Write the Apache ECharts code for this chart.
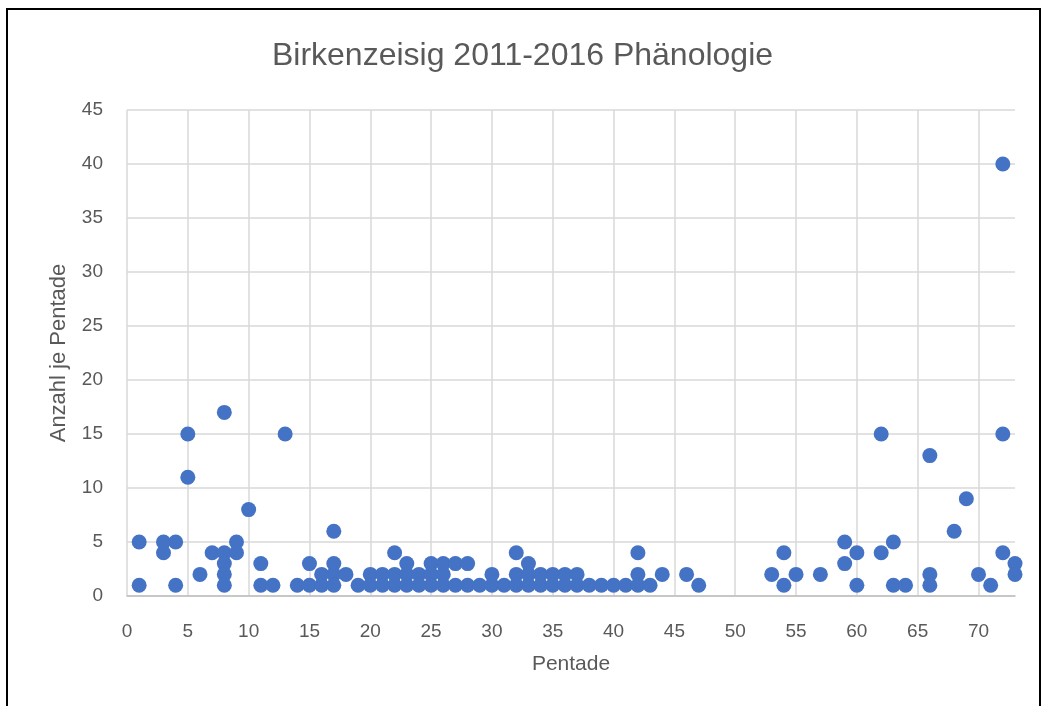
<!DOCTYPE html>
<html>
<head>
<meta charset="utf-8">
<script src="https://cdn.jsdelivr.net/npm/echarts@6/dist/echarts.min.js"></script>
<style>
  html, body { margin: 0; padding: 0; background: #fff; }
  #chart { width: 1045px; height: 706px; }
</style>
</head>
<body>
<div id="chart"></div>
<script>
// Pentade (x) und Anzahl (y), Punkt für Punkt
var pentade = [1, 1, 3, 3, 4, 4, 5, 5, 6, 7, 8, 8, 8, 8, 8, 9, 9, 10, 11, 11, 12, 13, 14, 15, 15, 16, 16,
  17, 17, 17, 17, 18, 19, 20, 20, 21, 21, 22, 22, 22, 23, 23, 23, 24, 24, 25, 25, 25, 26, 26, 26,
  27, 27, 28, 28, 29, 30, 30, 31, 32, 32, 32, 33, 33, 33, 34, 34, 35, 35, 36, 36, 37, 37, 38, 39,
  40, 41, 42, 42, 42, 43, 44, 46, 47, 53, 54, 54, 55, 57, 59, 59, 60, 60, 62, 62, 63, 63, 64,
  66, 66, 66, 68, 69, 70, 71, 72, 72, 72, 73, 73];
var anzahl = [5, 1, 5, 4, 5, 1, 15, 11, 2, 4, 17, 4, 3, 2, 1, 5, 4, 8, 3, 1, 1, 15, 1, 3, 1, 2, 1,
  6, 3, 2, 1, 2, 1, 2, 1, 2, 1, 4, 2, 1, 3, 2, 1, 2, 1, 3, 2, 1, 3, 2, 1,
  3, 1, 3, 1, 1, 2, 1, 1, 4, 2, 1, 3, 2, 1, 2, 1, 2, 1, 2, 1, 2, 1, 1, 1,
  1, 1, 4, 2, 1, 1, 2, 2, 1, 2, 4, 1, 2, 2, 5, 3, 4, 1, 15, 4, 5, 1, 1,
  13, 2, 1, 6, 9, 2, 1, 40, 15, 4, 3, 2];

var points = pentade.map(function (p, i) { return [p, anzahl[i]]; });

var font = "'Liberation Sans', 'DejaVu Sans', sans-serif";
var grey = '#595959';

var chart = echarts.init(document.getElementById('chart'));
chart.setOption({
  animation: false,
  backgroundColor: '#ffffff',
  title: {
    text: 'Birkenzeisig 2011-2016 Phänologie',
    left: 'center',
    top: 35,
    textStyle: { fontFamily: font, fontSize: 32, fontWeight: 'normal', color: grey }
  },
  graphic: [{
    type: 'rect',
    shape: { x: 7, y: 9, width: 1033, height: 760 },
    style: { fill: 'none', stroke: '#000', lineWidth: 2 },
    silent: true
  }],
  grid: { left: 127, right: 30, top: 110, bottom: 110 },
  xAxis: {
    type: 'value',
    min: 0,
    max: 73,
    interval: 5,
    name: 'Pentade',
    nameLocation: 'middle',
    nameGap: 58,
    nameTextStyle: { fontFamily: font, fontSize: 21, color: grey },
    axisLine: { show: true, onZero: false, lineStyle: { color: '#bfbfbf', width: 1.5 } },
    axisTick: { show: false },
    axisLabel: { fontFamily: font, fontSize: 19, color: grey, margin: 26, showMaxLabel: false },
    splitLine: { show: true, showMaxLine: false, lineStyle: { color: '#d9d9d9', width: 1.5 } }
  },
  yAxis: {
    type: 'value',
    min: 0,
    max: 45,
    interval: 5,
    name: 'Anzahl je Pentade',
    nameLocation: 'middle',
    nameGap: 57,
    nameTextStyle: { fontFamily: font, fontSize: 22, color: grey },
    axisLine: { show: false },
    axisTick: { show: false },
    axisLabel: { fontFamily: font, fontSize: 19, color: grey, margin: 24 },
    splitLine: { show: true, lineStyle: { color: '#d9d9d9', width: 1.5 } }
  },
  series: [{
    type: 'scatter',
    data: points,
    symbol: 'circle',
    symbolSize: 15,
    itemStyle: { color: '#4472c4', opacity: 1 }
  }]
});
</script>
</body>
</html>
